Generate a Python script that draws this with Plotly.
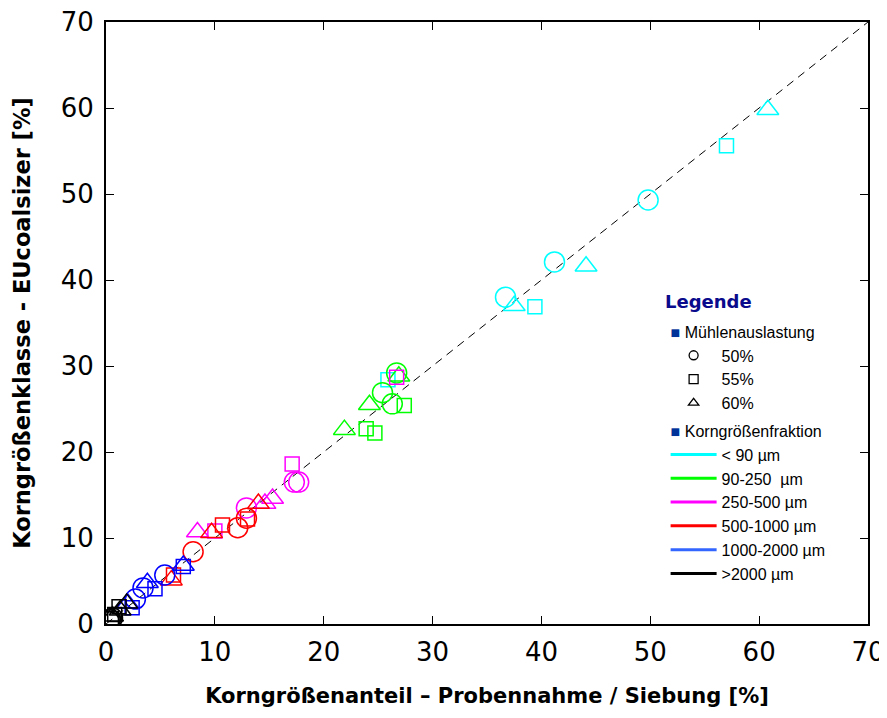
import plotly.graph_objects as go

# ---- data (x = Probennahme/Siebung %, y = EUcoalsizer %) ----
fractions = ["< 90 µm", "90-250  µm", "250-500 µm", "500-1000 µm", "1000-2000 µm", ">2000 µm"]
frac_colors = ["#00FFFF", "#00FF00", "#FF00FF", "#FF0000", "#0000FF", "#000000"]
legend_line_colors = ["#00FFFF", "#00FF00", "#FF00FF", "#FF0000", "#3366FF", "#000000"]

loads = ["50%", "55%", "60%"]
load_symbols = ["circle-open", "square-open", "triangle-up-open"]

# per fraction: [circle(50%), square(55%), triangle(60%)] -> (x list, y list)
x_50 = [[49.8, 41.2, 36.7], [26.7, 25.4, 26.3], [12.9, 17.3, 17.7], [8.0, 12.1, 12.9], [5.4, 3.4, 2.7], [0.4, 0.6, 0.3]]
y_50 = [[49.3, 42.1, 38.0], [29.2, 26.9, 25.6], [13.5, 16.5, 16.5], [8.4, 11.2, 12.3], [5.7, 4.2, 2.9], [0.5, 0.7, 0.3]]
x_55 = [[57.0, 39.4, 25.9], [27.4, 23.9, 24.7], [17.1, 10.0, 26.7], [6.2, 10.7, 13.0], [7.1, 4.5, 2.4], [1.2, 0.8, 0.5]]
y_55 = [[55.6, 36.9, 28.4], [25.4, 22.7, 22.2], [18.6, 10.8, 28.7], [5.7, 11.5, 12.2], [6.7, 4.1, 1.9], [2.0, 1.1, 0.6]]
x_60 = [[60.8, 44.1, 37.5], [26.9, 24.2, 21.9], [15.3, 14.6, 8.4], [6.0, 9.7, 14.0], [7.1, 3.8, 2.0], [1.9, 1.3, 0.6]]
y_60 = [[59.8, 41.6, 37.0], [28.8, 25.5, 22.6], [14.6, 14.0, 10.7], [5.1, 10.6, 14.0], [6.8, 4.8, 2.4], [2.4, 1.6, 0.9]]

diag = [0, 70]
x_ticks = [0, 10, 20, 30, 40, 50, 60, 70]

marker_sizes = [20, 14, 19]

fig = go.Figure()

fig.add_trace(go.Scatter(x=diag, y=diag, mode="lines",
                         line=dict(color="black", width=1, dash="8px,6px"),
                         showlegend=False, hoverinfo="skip"))

xs_all = [x_50, x_55, x_60]
ys_all = [y_50, y_55, y_60]
for fi, col in enumerate(frac_colors):
    for li in range(3):
        fig.add_trace(go.Scatter(
            x=xs_all[li][fi], y=ys_all[li][fi], mode="markers",
            marker=dict(symbol=load_symbols[li], size=marker_sizes[li],
                        color=col, line=dict(color=col, width=1.5)),
            showlegend=False))

bullet = '<span style="color:#003399">■</span> '
# legend: loads
for li, lab in enumerate(loads):
    fig.add_trace(go.Scatter(
        x=[None], y=[None], mode="markers", name=lab,
        marker=dict(symbol=load_symbols[li], size=9, color="black",
                    line=dict(color="black", width=1.3)),
        legendgroup="load",
        legendgrouptitle=dict(text=bullet + "Mühlenauslastung",
                              font=dict(family="Liberation Sans", size=16, color="black")) if li == 0 else None))
# legend: fractions
for fi, lab in enumerate(fractions):
    fig.add_trace(go.Scatter(
        x=[None], y=[None], mode="lines", name=lab,
        line=dict(color=legend_line_colors[fi], width=3),
        legendgroup="frac",
        legendgrouptitle=dict(text=bullet + "Korngrößenfraktion",
                              font=dict(family="Liberation Sans", size=16, color="black")) if fi == 0 else None))

axis_common = dict(range=[0, 70], tickvals=x_ticks, showline=True, linecolor="black",
                   linewidth=2, mirror="ticks", ticks="inside", ticklen=8,
                   tickcolor="black", tickwidth=1, showgrid=False, zeroline=False,
                   automargin=False, ticklabeloverflow="allow",
                   tickfont=dict(family="DejaVu Sans", size=26, color="black"))

# page body has an 8px margin: compensate so the plot area lands at 106..868 x 22..624
fig.update_layout(
    width=879, height=710,
    margin=dict(l=98, r=19, t=14, b=94),
    paper_bgcolor="white", plot_bgcolor="white",
    xaxis=dict(**axis_common, ticklabelstandoff=4,
               title=dict(text="<b>Korngrößenanteil – Probennahme / Siebung [%]</b>",
                          font=dict(family="DejaVu Sans", size=21, color="black"),
                          standoff=22)),
    yaxis=dict(**axis_common, ticklabelstandoff=5,
               title=dict(text="<b>Korngrößenklasse - EUcoalsizer [%]</b>",
                          font=dict(family="DejaVu Sans", size=22.5, color="black"),
                          standoff=24)),
    legend=dict(x=0.7344, y=0.514, xanchor="left", yanchor="top",
                font=dict(family="Liberation Sans", size=16, color="black"),
                itemwidth=46,
                bgcolor="rgba(0,0,0,0)", tracegroupgap=4, groupclick="toggleitem"),
    annotations=[dict(text="<b>Legende</b>", xref="paper", yref="paper",
                      x=0.731, y=0.535, xanchor="left", yanchor="middle", showarrow=False,
                      font=dict(family="DejaVu Sans", size=18, color="#0A0A8C"))],
    font=dict(family="DejaVu Sans"),
)

fig.write_html("out.html")
